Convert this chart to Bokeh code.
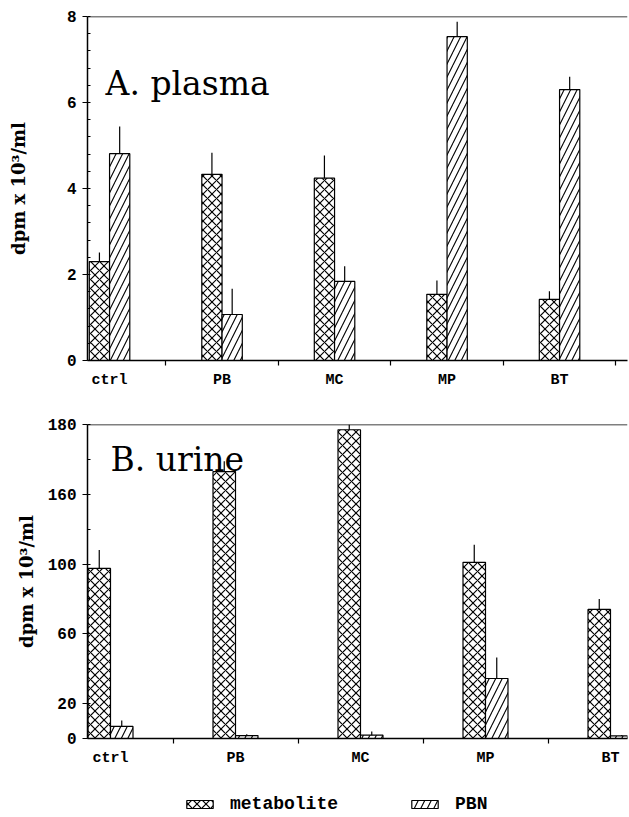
from bokeh.plotting import figure
from bokeh.layouts import column
from bokeh.models import (Range1d, FixedTicker, Span, Label, Legend, LegendItem,
                          ColumnDataSource)
from bokeh.embed import file_html
from bokeh.resources import INLINE

# ---- data ----
groups = ["ctrl", "PB", "MC", "MP", "BT"]

plasma_metabolite = [2.30, 4.33, 4.24, 1.54, 1.42]
plasma_metabolite_err = [0.21, 0.50, 0.53, 0.32, 0.19]
plasma_pbn = [4.81, 1.07, 1.84, 7.53, 6.30]
plasma_pbn_err = [0.63, 0.60, 0.35, 0.35, 0.30]

urine_metabolite = [97.5, 153.0, 177.0, 101.0, 74.0]
urine_metabolite_err = [10.5, 6.0, 3.0, 10.0, 6.0]
urine_pbn = [6.9, 1.7, 1.9, 34.4, 1.5]
urine_pbn_err = [3.4, 0.8, 2.1, 12.0, 0.5]

plasma_yticks = [0, 2, 4, 6, 8]
urine_yticks = [0, 20, 60, 100, 140, 180]
urine_ytick_labels = ["0", "20", "60", "100", "160", "180"]

series_names = ["metabolite", "PBN"]

TICK_FONT = "Liberation Mono"
LABEL_FONT = "DejaVu Serif"
BW = 0.18
W = 628
MET_HATCH = dict(fill_color="white", line_color="black", line_width=1.2,
                 hatch_pattern="x", hatch_scale=9, hatch_weight=1.2, hatch_color="black")
PBN_HATCH = dict(fill_color="white", line_color="black", line_width=1.2,
                 hatch_pattern="/", hatch_scale=13, hatch_weight=1.1, hatch_color="black")


def make_panel(met, met_err, pbn, pbn_err, ymax, yticks, yminor, ylabels,
               xrange, title, title_xy, height, top_border, bottom_border,
               label_standoff):
    p = figure(width=W, height=height, output_backend="svg", toolbar_location=None,
               x_range=Range1d(*xrange), y_range=Range1d(0, ymax),
               min_border_left=87, min_border_right=1,
               min_border_top=top_border, min_border_bottom=bottom_border)
    p.outline_line_color = None
    p.xgrid.visible = False
    p.ygrid.visible = False

    idx = list(range(len(groups)))
    xm = [i - BW / 2 for i in idx]
    xp = [i + BW / 2 for i in idx]
    src_m = ColumnDataSource(dict(x=xm, top=met, e=[a + b for a, b in zip(met, met_err)]))
    src_p = ColumnDataSource(dict(x=xp, top=pbn, e=[a + b for a, b in zip(pbn, pbn_err)]))

    p.vbar(x="x", top="top", width=BW, source=src_m, **MET_HATCH)
    p.vbar(x="x", top="top", width=BW, source=src_p, **PBN_HATCH)
    p.segment(x0="x", y0="top", x1="x", y1="e", source=src_m, line_color="black", line_width=1.2)
    p.segment(x0="x", y0="top", x1="x", y1="e", source=src_p, line_color="black", line_width=1.2)

    p.add_layout(Span(location=ymax, dimension="width", line_color="black", line_width=1.3))

    xa = p.xaxis[0]
    xa.ticker = FixedTicker(ticks=idx, minor_ticks=[i + 0.5 for i in idx])
    xa.major_label_overrides = {i: g for i, g in enumerate(groups)}
    xa.major_tick_in = 0
    xa.major_tick_out = 0
    xa.minor_tick_in = 0
    xa.minor_tick_out = 5
    xa.axis_line_width = 1.5
    xa.minor_tick_line_width = 1.2
    xa.major_label_text_font = TICK_FONT
    xa.major_label_text_font_style = "bold"
    xa.major_label_text_font_size = "15px"
    xa.major_label_text_color = "black"
    xa.major_label_standoff = 6

    ya = p.yaxis[0]
    ya.ticker = FixedTicker(ticks=yticks, minor_ticks=yminor)
    ya.major_label_overrides = {t: l for t, l in zip(yticks, ylabels)}
    ya.major_tick_in = 0
    ya.major_tick_out = 5
    ya.minor_tick_in = 3
    ya.minor_tick_out = 0
    ya.axis_line_width = 1.5
    ya.major_tick_line_width = 1.2
    ya.minor_tick_line_width = 1.0
    ya.major_label_text_font = TICK_FONT
    ya.major_label_text_font_style = "bold"
    ya.major_label_text_font_size = "16px"
    ya.major_label_text_color = "black"
    ya.major_label_standoff = 6
    ya.axis_label = "dpm x 10\u00b3/ml"
    ya.axis_label_text_font = LABEL_FONT
    ya.axis_label_text_font_style = "bold"
    ya.axis_label_text_font_size = "18px"
    ya.axis_label_text_color = "black"
    ya.axis_label_standoff = label_standoff

    p.add_layout(Label(x=title_xy[0], y=title_xy[1], text=title, text_font=LABEL_FONT,
                       text_font_size="33px", text_color="black",
                       text_baseline="alphabetic"))
    return p


p1 = make_panel(plasma_metabolite, plasma_metabolite_err, plasma_pbn, plasma_pbn_err,
                8, plasma_yticks, [round(0.4 * k, 1) for k in range(21)],
                [str(t) for t in plasma_yticks], (-0.196, 4.604), "A. plasma",
                (-0.035, 6.44), 400, 16, 40, 35)

p2 = make_panel(urine_metabolite, urine_metabolite_err, urine_pbn, urine_pbn_err,
                180, urine_yticks, list(range(0, 181, 20)), urine_ytick_labels,
                (-0.184, 4.136), "B. urine", (0.0, 160), 380, 24, 42, 8)

# legend strip
p3 = figure(width=W, height=34, output_backend="svg", toolbar_location=None,
            x_range=Range1d(0, 1), y_range=Range1d(0, 1),
            x_axis_location=None, y_axis_location=None,
            min_border_left=0, min_border_right=0, min_border_top=0, min_border_bottom=0)
p3.xgrid.visible = False
p3.ygrid.visible = False
p3.outline_line_color = None
offscreen = ColumnDataSource(dict(x=[-10.0], top=[0.0]))
lm = p3.vbar(x="x", top="top", width=0.1, source=offscreen, **MET_HATCH)
lp = p3.vbar(x="x", top="top", width=0.1, source=offscreen, **PBN_HATCH)
legend = Legend(items=[LegendItem(label=series_names[0], renderers=[lm]),
                       LegendItem(label=series_names[1], renderers=[lp])],
                orientation="horizontal", location=(96, 0),
                glyph_width=33, glyph_height=10, label_standoff=14, spacing=70,
                label_text_font=TICK_FONT, label_text_font_style="bold",
                label_text_font_size="18px", label_text_color="black",
                border_line_color=None, background_fill_alpha=0, margin=0, padding=1)
p3.add_layout(legend)

layout = column(p1, p2, p3, spacing=0)
open("out.html", "w").write(file_html(layout, INLINE))
